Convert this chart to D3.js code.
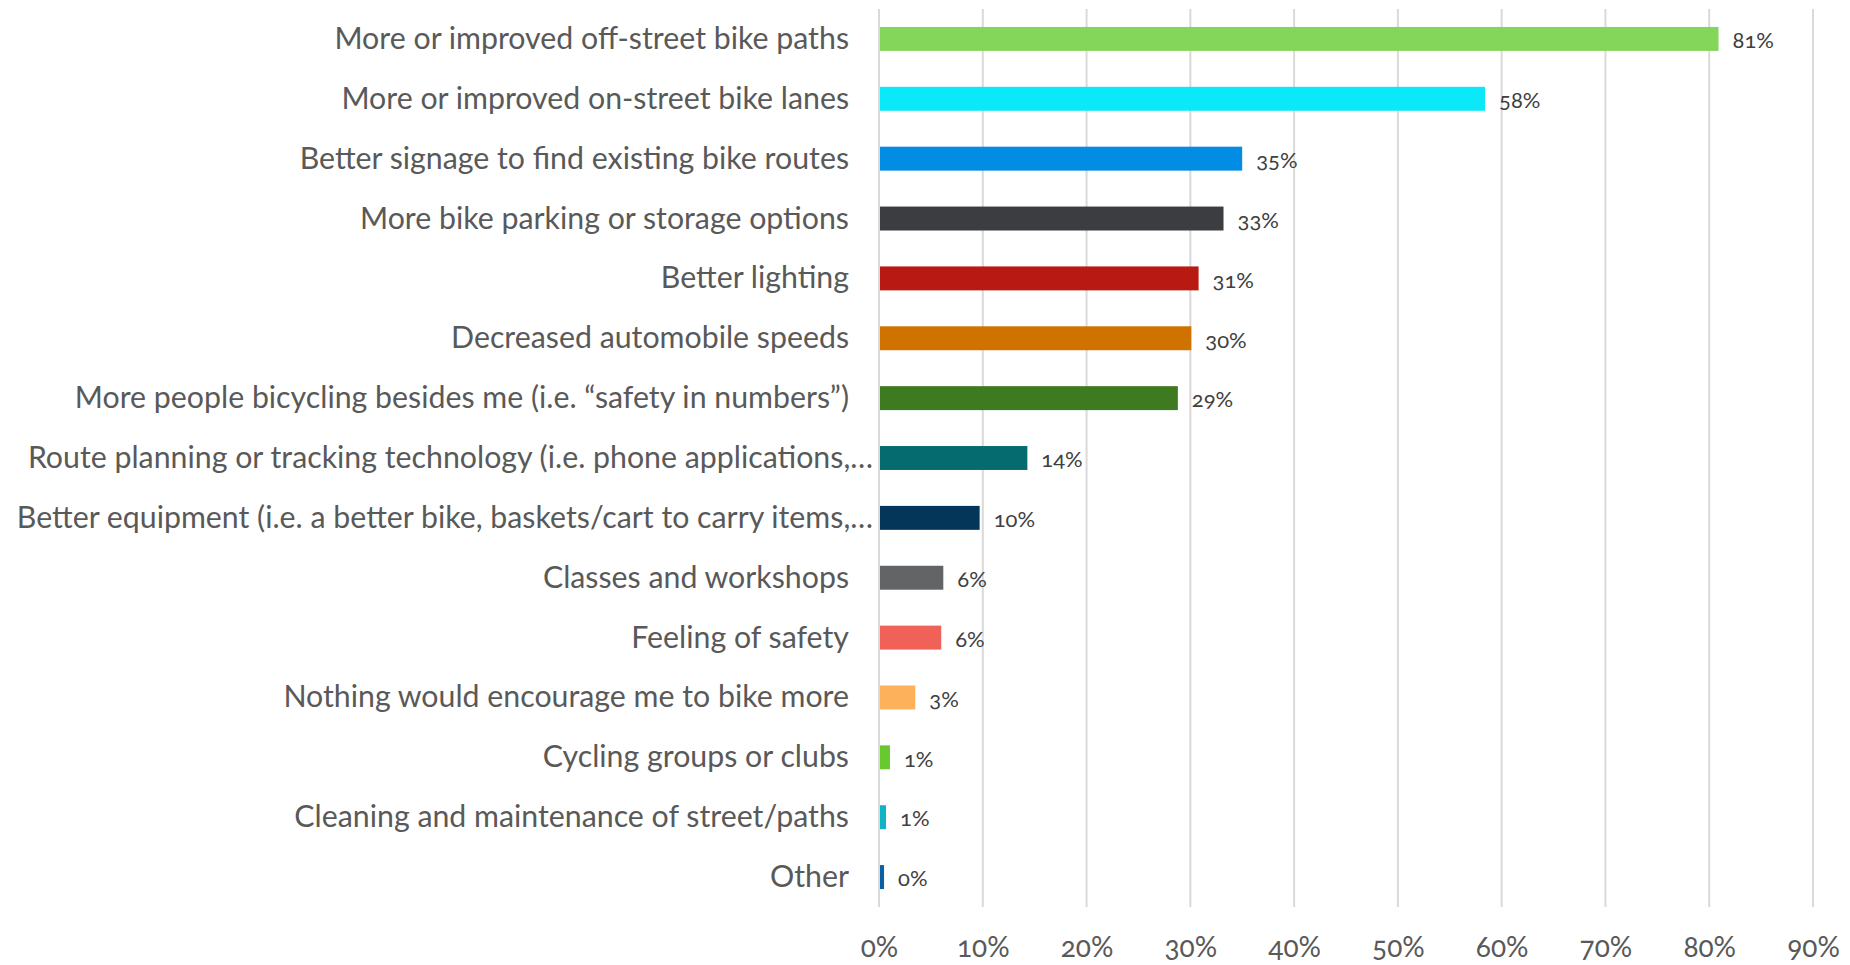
<!DOCTYPE html>
<html>
<head>
<meta charset="utf-8">
<script src="https://cdn.jsdelivr.net/npm/d3@7"></script>
<style>
  html, body { margin: 0; padding: 0; background: #ffffff; }
  svg { display: block; }
  text { font-family: Lato, "Open Sans", sans-serif; font-variant-numeric: oldstyle-nums; }
</style>
</head>
<body>
<svg id="chart" width="1850" height="965"></svg>
<script>
// Survey answers: what would encourage respondents to bike more
const categories = [
  "More or improved off-street bike paths",
  "More or improved on-street bike lanes",
  "Better signage to find existing bike routes",
  "More bike parking or storage options",
  "Better lighting",
  "Decreased automobile speeds",
  "More people bicycling besides me (i.e. \u201csafety in numbers\u201d)",
  "Route planning or tracking technology (i.e. phone applications,\u2026",
  "Better equipment (i.e. a better bike, baskets/cart to carry items,\u2026",
  "Classes and workshops",
  "Feeling of safety",
  "Nothing would encourage me to bike more",
  "Cycling groups or clubs",
  "Cleaning and maintenance of street/paths",
  "Other"
];

// Share of respondents, in percent
const values = [80.8, 58.3, 34.9, 33.1, 30.7, 30.0, 28.7, 14.2, 9.6, 6.1, 5.9, 3.4, 0.96, 0.58, 0.39];

const barColors = [
  "#83D65A", "#0BE8F7", "#028CE4", "#3C3D40", "#B81A13",
  "#D07200", "#3E7A20", "#066B6F", "#04365A", "#636466",
  "#F06258", "#FDB15A", "#67C92D", "#10B2C5", "#0B5FA5"
];

const tickValues = [0, 10, 20, 30, 40, 50, 60, 70, 80, 90];

const svg = d3.select("#chart");

const x = d3.scaleLinear().domain([0, 90]).range([879, 1813]);
const y = d3.scaleBand().domain(categories).range([9, 907])
  .paddingInner(0.6).paddingOuter(0.3);

const pct = v => d3.format(".0f")(v) + "%";

// Vertical gridlines
svg.append("g")
  .selectAll("line")
  .data(tickValues)
  .join("line")
  .attr("x1", d => x(d)).attr("x2", d => x(d))
  .attr("y1", 9).attr("y2", 907)
  .attr("stroke", "#d9d9d9")
  .attr("stroke-width", 2);

// Bottom axis labels
const xAxis = d3.axisBottom(x).tickValues(tickValues).tickFormat(pct).tickSize(0).tickPadding(0);
const gx = svg.append("g").attr("transform", "translate(0,937)").call(xAxis);
gx.select(".domain").remove();
gx.selectAll("text")
  .attr("font-size", 28)
  .attr("fill", "#595959")
  .attr("font-family", "Lato, 'Open Sans', sans-serif");

// Category labels on the left; clipped labels run a little further right
const yAxis = d3.axisLeft(y).tickSize(0).tickPadding(0);
const gy = svg.append("g").attr("transform", "translate(849,0)").call(yAxis);
gy.select(".domain").remove();
gy.selectAll("text")
  .attr("font-size", 30.3)
  .attr("fill", "#595959")
  .attr("dy", "0.33em")
  .attr("dx", d => d.endsWith("\u2026") ? 24 : 0)
  .attr("font-family", "Lato, 'Open Sans', sans-serif");

// Bars
svg.append("g")
  .selectAll("rect")
  .data(values)
  .join("rect")
  .attr("x", x(0) + 1)
  .attr("y", (d, i) => y(categories[i]))
  .attr("width", d => x(d) - x(0))
  .attr("height", y.bandwidth())
  .attr("fill", (d, i) => barColors[i]);

// Value labels at the end of each bar
svg.append("g")
  .selectAll("text")
  .data(values)
  .join("text")
  .attr("x", d => x(d) + 15)
  .attr("y", (d, i) => y(categories[i]) + y.bandwidth() / 2)
  .attr("dy", "0.42em")
  .attr("font-size", 22)
  .attr("fill", "#404040")
  .text(d => pct(d));
</script>
</body>
</html>
